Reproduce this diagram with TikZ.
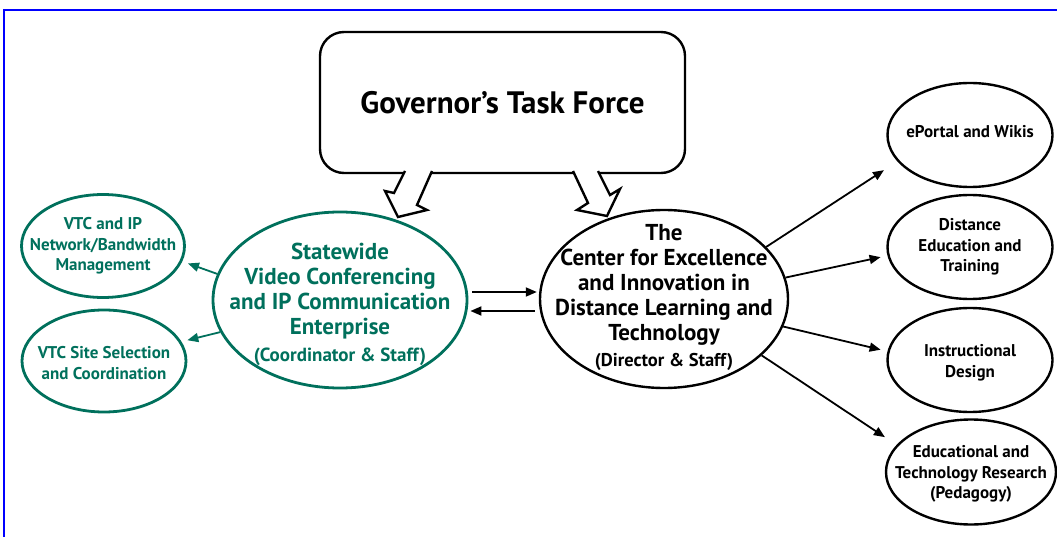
\documentclass[tikz,border=0pt]{standalone}
\usepackage{fontspec}
\setmainfont{PT Sans}
\usetikzlibrary{shapes.geometric,arrows.meta}
\definecolor{vtcgreen}{RGB}{0,112,92}

\begin{document}
\begin{tikzpicture}[x=1pt, y=-1pt,
    every node/.style={align=center},
    oval/.style={draw, ellipse, line width=2.4pt, inner sep=0pt,
      minimum width=165pt, minimum height=104pt},
    goval/.style={oval, draw=vtcgreen, line width=2.8pt},
    txt/.style={font=\bfseries\fontsize{17}{20.5}\selectfont},
    gtxt/.style={txt, text=vtcgreen},
    arr/.style={-{Triangle[length=11pt,width=9pt]}, line width=1.8pt},
    garr/.style={arr, draw=vtcgreen, fill=vtcgreen}]
  \useasboundingbox (0,0) rectangle (1057,537);

  % frame
  \draw[blue, line width=1.5pt] (4,537) -- (4,10) -- (1057,10);

  % --- Task force callout ---
  \node[draw, rounded corners=24pt, line width=2.4pt, minimum width=365pt,
    minimum height=141pt, font=\bfseries\fontsize{31}{36}\selectfont]
    (gtf) at (502.5,102.5) {Governor’s Task Force};
  % tails (white fill hides the box edge)
  \filldraw[fill=white, line width=2.4pt]
    (405,171) -- (394,193) -- (385,191) -- (398,217) -- (427,210) -- (417,205) -- (432,171);
  \filldraw[fill=white, line width=2.4pt]
    (573,171) -- (588,203) -- (577,210) -- (607,216) -- (620,189) -- (610,195) -- (598,171);

  % --- Left: video conferencing ---
  \node[goval, minimum width=254pt, minimum height=176pt] (sve) at (340,300) {};
  \node[gtxt, font=\bfseries\fontsize{23}{25}\selectfont] (sve-t) at (340,304)
    {Statewide\\Video Conferencing\\and IP Communication\\Enterprise\\[2pt]
     {\fontsize{19}{20}\selectfont(Coordinator \& Staff)}};

  \node[goval, minimum width=163pt, minimum height=103pt] (vtcnet) at (103,246) {};
  \node[gtxt] (vtcnet-t) at (vtcnet) {VTC and IP\\Network/Bandwidth\\Management};
  \node[goval, minimum width=164pt, minimum height=102pt] (vtcsite) at (104,361) {};
  \node[gtxt] (vtcsite-t) at (104,363) {VTC Site Selection\\and Coordination};

  \draw[garr, shorten >=6pt] (sve.168) -- (vtcnet.349);
  \draw[garr, shorten >=6pt] (sve.195) -- (vtcsite.14);

  % --- Centre ---
  \node[oval, minimum width=248pt, minimum height=178pt] (cel) at (664,299) {};
  \node[txt, font=\bfseries\fontsize{23}{25}\selectfont] (cel-t) at (664,297)
    {The\\Center for Excellence\\and Innovation in\\Distance Learning and\\Technology\\[1pt]
     {\fontsize{18.5}{20}\selectfont(Director \& Staff)}};

  % two way link
  \draw[arr, shorten <=4pt, shorten >=2pt]
    ([yshift=8pt]sve.east) -- ([yshift=8pt]sve.east -| cel.west);
  \draw[arr, shorten <=4pt, shorten >=2pt]
    ([yshift=-12pt]cel.west) -- ([yshift=-12pt]cel.west -| sve.east);

  % --- Right: four units ---
  \node[oval] (eportal) at (970,135) {};
  \node[txt] (eportal-t) at (970,132) {ePortal and Wikis};
  \node[oval] (dist) at (970,247) {};
  \node[txt] (dist-t) at (dist) {Distance\\Education and\\Training};
  \node[oval] (instr) at (970,360) {};
  \node[txt] (instr-t) at (970,363) {Instructional\\Design};
  \node[oval, minimum width=170pt, minimum height=105pt] (edres) at (971,472) {};
  \node[txt] (edres-t) at (971,474) {Educational and\\Technology Research\\(Pedagogy)};

  \draw[arr, shorten >=16pt] (cel.27) -- (eportal.200);
  \draw[arr, shorten >=7pt] (cel.10) -- (dist.186);
  \draw[arr, shorten >=7pt] (cel.-13) -- (instr.174);
  \draw[arr, shorten >=14pt] (cel.-30) -- (edres.160);
\end{tikzpicture}
\end{document}
